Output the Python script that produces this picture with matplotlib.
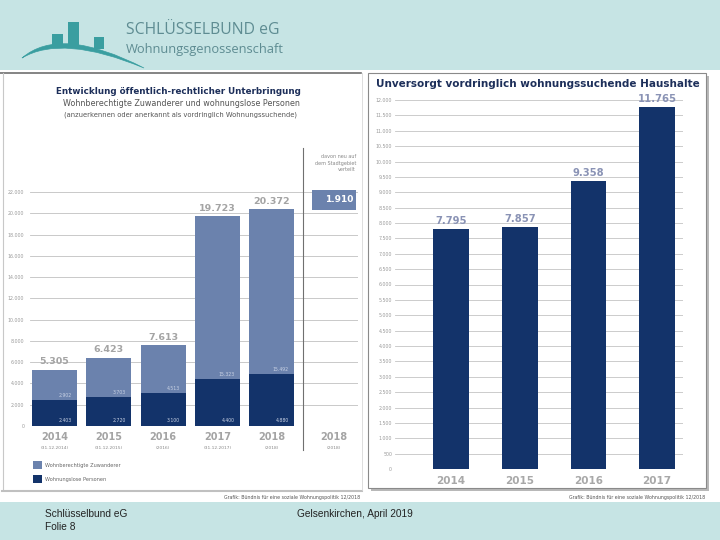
import matplotlib
matplotlib.use('Agg')
import matplotlib.pyplot as plt
from matplotlib.patches import Rectangle, PathPatch
from matplotlib.path import Path

# Linke Grafik: öffentlich-rechtliche Unterbringung
years_left = ['2014', '2015', '2016', '2017', '2018']
year_notes_left = ['(31.12.2014)', '(31.12.2015)', '(2016)', '(31.12.2017)', '(2018)']
zuwanderer = [2902, 3703, 4513, 15323, 15492]
wohnungslose = [2403, 2720, 3100, 4400, 4880]
totals_left = [5305, 6423, 7613, 19723, 20372]
extra_year = '2018'
extra_note = '(2018)'
extra_value = 1910
left_ticks = list(range(0, 22001, 2000))

# Rechte Grafik: unversorgt vordringlich wohnungssuchende Haushalte
years_right = ['2014', '2015', '2016', '2017']
haushalte = [7795, 7857, 9358, 11765]
right_ticks = list(range(0, 12001, 500))

LIGHT = '#6b82ad'
DARK = '#13336a'
TEAL_BG = '#c6e4e4'
W, H = 720, 540


def de(v):
	return f'{v:,}'.replace(',', '.')


def px_rect(x0, y0, x1, y1):
	return [x0 / W, 1 - y1 / H, (x1 - x0) / W, (y1 - y0) / H]


fig = plt.figure(figsize=(7.2, 5.4), dpi=100)
fig.patch.set_facecolor('white')

# Hintergrund, Logo, Rahmen (in Pixelkoordinaten)
bg = fig.add_axes([0, 0, 1, 1])
bg.set_xlim(0, W)
bg.set_ylim(H, 0)
bg.axis('off')
bg.add_patch(Rectangle((0, 0), W, 70, color=TEAL_BG, lw=0))
bg.add_patch(Rectangle((0, 502), W, 38, color=TEAL_BG, lw=0))

# Logo
logo = '#3a9ea0'
bg.add_patch(Rectangle((52, 34), 11, 14, color=logo, lw=0))
bg.add_patch(Rectangle((68, 22), 11, 25, color=logo, lw=0))
bg.add_patch(Rectangle((94, 37), 10, 12, color=logo, lw=0))
arc = Path([(22, 58), (60, 25), (144, 68), (144, 68), (62, 34), (22, 58), (22, 58)],
	[Path.MOVETO, Path.CURVE3, Path.CURVE3, Path.LINETO, Path.CURVE3, Path.CURVE3, Path.CLOSEPOLY])
bg.add_patch(PathPatch(arc, color=logo, lw=0.5))
bg.text(126, 30, 'SCHLÜSSELBUND eG', fontsize=11.3, color='#5e8c92', va='center', ha='left',
	family='Open Sans')
bg.text(126, 50, 'Wohnungsgenossenschaft', fontsize=9.3, color='#5e8c92', va='center', ha='left',
	family='Open Sans')

# linker Rahmen
bg.plot([0, 361], [72.5, 72.5], color='#707070', lw=1.2)
bg.plot([2.5, 2.5], [73, 490], color='#c8c8c8', lw=0.8)
bg.plot([2, 362], [490.5, 490.5], color='#c0c0c0', lw=1.5)
bg.plot([361.5, 361.5], [73, 490], color='#d8d8d8', lw=0.6)

# rechter Rahmen mit Schatten
bg.add_patch(Rectangle((371, 76), 338, 415, color='#b8b8b8', lw=0))
bg.add_patch(Rectangle((368, 73), 338, 415, facecolor='white', edgecolor='#8a8a8a', lw=0.8))

# Texte
bg.text(178, 91, 'Entwicklung öffentlich-rechtlicher Unterbringung', fontsize=6.3,
	fontweight='bold', color='#1d2f5a', ha='center', va='center')
bg.text(181, 103, 'Wohnberechtigte Zuwanderer und wohnungslose Personen', fontsize=5.8,
	color='#555555', ha='center', va='center')
bg.text(181, 115, '(anzuerkennen oder anerkannt als vordringlich Wohnungssuchende)', fontsize=4.9,
	color='#555555', ha='center', va='center')
bg.text(538, 84, 'Unversorgt vordringlich wohnungssuchende Haushalte', fontsize=7.5,
	fontweight='bold', color='#1d2f5a', ha='center', va='center')
bg.text(356, 163, 'davon neu auf\ndem Stadtgebiet\nverteilt', fontsize=3.5, color='#888888',
	ha='right', va='center', linespacing=1.3)

bg.text(360, 497, 'Grafik: Bündnis für eine soziale Wohnungspolitik 12/2018', fontsize=3.4,
	color='#555555', ha='right', va='center')
bg.text(705, 498, 'Grafik: Bündnis für eine soziale Wohnungspolitik 12/2018', fontsize=3.4,
	color='#555555', ha='right', va='center')

bg.text(45, 514, 'Schlüsselbund eG', fontsize=7.3, color='#222222', va='center',
	family='Liberation Sans')
bg.text(45, 527, 'Folie 8', fontsize=7.3, color='#222222', va='center', family='Liberation Sans')
bg.text(297, 514, 'Gelsenkirchen, April 2019', fontsize=7.3, color='#222222', va='center',
	family='Liberation Sans')

# Legende links
bg.add_patch(Rectangle((33, 461), 9, 8, color=LIGHT, lw=0))
bg.add_patch(Rectangle((33, 475), 9, 8, color=DARK, lw=0))
bg.text(45, 465, 'Wohnberechtigte Zuwanderer', fontsize=3.6, color='#666666', va='center')
bg.text(45, 479, 'Wohnungslose Personen', fontsize=3.6, color='#666666', va='center')

# ---- Linke Grafik
ax1 = fig.add_axes(px_rect(30, 192, 358, 426))
ax1.set_facecolor('none')
x_left = list(range(len(years_left)))
ax1.set_xlim(-0.45, 5.59)
ax1.set_ylim(0, 22000)
ax1.set_yticks(left_ticks)
ax1.set_yticklabels([de(t) for t in left_ticks])
ax1.tick_params(axis='y', length=0, pad=4, labelsize=3.4, labelcolor='#9a9a9a')
ax1.set_xticks([])
for t in left_ticks:
	ax1.axhline(t, color='#c0c0c0', lw=0.6, zorder=0)
for s in ax1.spines.values():
	s.set_visible(False)

bw = 0.83
ax1.bar(x_left, wohnungslose, width=bw, color=DARK, zorder=2)
ax1.bar(x_left, zuwanderer, width=bw, bottom=wohnungslose, color=LIGHT, zorder=2)
for i in x_left:
	ax1.text(i, totals_left[i] + 300, de(totals_left[i]), ha='center', va='bottom',
		fontsize=6.8, fontweight='bold', color='#a4a4a4')
	ax1.text(i + bw / 2 - 0.1, wohnungslose[i] + 200, de(zuwanderer[i]), ha='right',
		va='bottom', fontsize=3.3, color='#c9d2e4')
	ax1.text(i + bw / 2 - 0.1, 250, de(wohnungslose[i]), ha='right', va='bottom',
		fontsize=3.3, color='#c9d2e4')
	ax1.text(i, -1050, years_left[i], ha='center', va='center', fontsize=7,
		fontweight='bold', color='#a4a4a4')
	ax1.text(i, -2050, year_notes_left[i], ha='center', va='center', fontsize=3.2,
		color='#888888')

# Trennlinie und Zusatzspalte 2018
ax1.plot([4.58, 4.58], [-0.103, 1.188], color='#707070', lw=0.8,
	transform=ax1.get_xaxis_transform(), clip_on=False)
ax1.bar(5.15, extra_value, width=0.81, bottom=20300, color=LIGHT, zorder=3, clip_on=False)
ax1.text(5.5, 20300 + extra_value / 2, de(extra_value), ha='right', va='center',
	fontsize=6.5, fontweight='bold', color='white', zorder=4)
ax1.text(5.15, -1050, extra_year, ha='center', va='center', fontsize=7,
	fontweight='bold', color='#a4a4a4')
ax1.text(5.15, -2050, extra_note, ha='center', va='center', fontsize=3.2, color='#888888')

# ---- Rechte Grafik
ax2 = fig.add_axes(px_rect(395, 100, 683, 469))
ax2.set_facecolor('none')
x_right = list(range(len(years_right)))
ax2.set_xlim(-0.815, 3.377)
ax2.set_ylim(0, 12000)
ax2.set_yticks(right_ticks)
ax2.set_yticklabels([de(t) for t in right_ticks])
ax2.tick_params(axis='y', length=0, pad=2, labelsize=3.4, labelcolor='#9a9a9a')
ax2.set_xticks(x_right)
ax2.set_xticklabels(years_right)
ax2.tick_params(axis='x', length=0, pad=5, labelsize=7.5, labelcolor='#a8a8a8')
for lbl in ax2.get_xticklabels():
	lbl.set_fontweight('bold')
for t in right_ticks:
	ax2.axhline(t, color='#c4c4c4', lw=0.6, zorder=0)
for s in ax2.spines.values():
	s.set_visible(False)

ax2.bar(x_right, haushalte, width=0.52, color=DARK, zorder=2)
for i in x_right:
	ax2.text(i, haushalte[i] + 120, de(haushalte[i]), ha='center', va='bottom',
		fontsize=7.2, fontweight='bold', color='#8a93b5')

fig.savefig('out.png', dpi=100)
